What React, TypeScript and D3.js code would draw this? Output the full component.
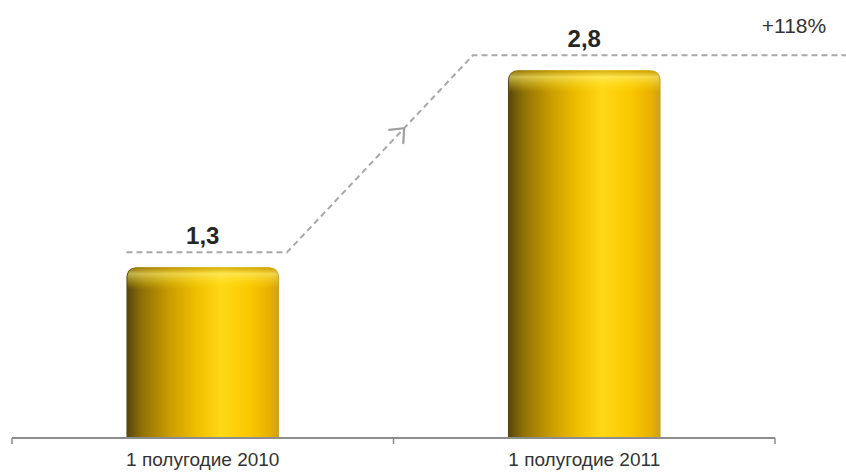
import * as d3 from "d3";
import React, {useEffect, useRef} from "react";

const categories = ["1 полугодие 2010", "1 полугодие 2011"];
const values = [1.3, 2.8];
const valueLabels = ["1,3", "2,8"];
const growthLabel = "+118%";

const width = 846;
const height = 472;

const App: React.FC = () => {
  const ref = useRef<SVGSVGElement | null>(null);

  useEffect(() => {
    const svg = d3.select(ref.current);
    svg.selectAll('*').remove();

    const margin = { left: 12, right: 71, bottom: 438 };

    const xScale = d3
      .scaleBand()
      .domain(categories)
      .range([margin.left, width - margin.right])
      .paddingInner(0.6)
      .paddingOuter(0.3);

    const yScale = d3
      .scaleLinear()
      .domain([0, 3])
      .range([margin.bottom, 44]);

    const bw = xScale.bandwidth();

    const defs = svg.append('defs');
    // horizontal shading of the cylinder
    const grad = defs.append('linearGradient')
      .attr('id', 'barGrad')
      .attr('x1', '0%').attr('x2', '100%').attr('y1', '0%').attr('y2', '0%');
    [
      [0, '#544510'],
      [0.1, '#8f7006'],
      [0.28, '#c99c00'],
      [0.46, '#efbf00'],
      [0.62, '#ffd816'],
      [0.8, '#fbc800'],
      [0.94, '#e8b000'],
      [1, '#c9a020'],
    ].forEach(([o, c]) => grad.append('stop').attr('offset', o as number).attr('stop-color', c as string));

    // highlight on the rounded top
    const capGrad = defs.append('linearGradient')
      .attr('id', 'capGrad')
      .attr('x1', '0%').attr('x2', '0%').attr('y1', '0%').attr('y2', '100%');
    capGrad.append('stop').attr('offset', 0).attr('stop-color', '#b08a00').attr('stop-opacity', 0.5);
    capGrad.append('stop').attr('offset', 0.3).attr('stop-color', '#fff27a').attr('stop-opacity', 0.6);
    capGrad.append('stop').attr('offset', 1).attr('stop-color', '#ffe000').attr('stop-opacity', 0);

    const r = 11;
    const barPath = (x: number, y: number, w: number, h: number) =>
      `M${x},${y + h} L${x},${y + r} Q${x},${y} ${x + r},${y} L${x + w - r},${y} Q${x + w},${y} ${x + w},${y + r} L${x + w},${y + h} Z`;

    const groups = svg.selectAll('.bar-group')
      .data(categories)
      .enter()
      .append('g')
      .attr('class', 'bar-group');

    groups.append('path')
      .attr('d', (d, i) => barPath(xScale(d)!, yScale(values[i]), bw, margin.bottom - yScale(values[i])))
      .attr('fill', 'url(#barGrad)');

    groups.append('path')
      .attr('d', (d, i) => barPath(xScale(d)! + 1, yScale(values[i]), bw - 2, 22))
      .attr('fill', 'url(#capGrad)');

    // value labels
    groups.append('text')
      .attr('x', (d) => xScale(d)! + bw / 2)
      .attr('y', (d, i) => yScale(values[i]) - 23)
      .attr('text-anchor', 'middle')
      .attr('fill', '#262626')
      .style('font-family', 'Liberation Sans, Arial, sans-serif')
      .style('font-size', '24px')
      .style('font-weight', 'bold')
      .text((d, i) => valueLabels[i]);

    // dashed growth connector
    const y0 = yScale(values[0]) - 15;
    const y1 = yScale(values[1]) - 15;
    const xa = xScale(categories[0])!;
    const xb = xa + bw + 8;
    const xc = xScale(categories[1])! - 35;
    svg.append('path')
      .attr('d', `M${xa},${y0} L${xb},${y0} L${xc},${y1} L${width},${y1}`)
      .attr('fill', 'none')
      .attr('stroke', '#a8a8a8')
      .attr('stroke-width', 2)
      .attr('stroke-dasharray', '6,4');

    // arrow head on the diagonal
    const t = 0.63;
    const tipX = xb + (xc - xb) * t;
    const tipY = y0 + (y1 - y0) * t;
    const back = Math.atan2(y0 - y1, xb - xc);
    const arm = 15;
    const spread = (40 * Math.PI) / 180;
    const a1 = [tipX + arm * Math.cos(back + spread), tipY + arm * Math.sin(back + spread)];
    const a2 = [tipX + arm * Math.cos(back - spread), tipY + arm * Math.sin(back - spread)];
    svg.append('path')
      .attr('d', `M${a1[0]},${a1[1]} L${tipX},${tipY} L${a2[0]},${a2[1]}`)
      .attr('fill', 'none')
      .attr('stroke', '#a0a0a0')
      .attr('stroke-width', 2.2)
      .attr('stroke-linecap', 'round');

    svg.append('text')
      .attr('x', 794)
      .attr('y', 33)
      .attr('text-anchor', 'middle')
      .attr('fill', '#333')
      .style('font-family', 'Liberation Sans, Arial, sans-serif')
      .style('font-size', '21px')
      .text(growthLabel);

    // x axis with ticks between categories
    const axisX = d3.scaleBand().domain(categories).range([margin.left, width - margin.right]);
    const axis = svg.append('g').attr('transform', `translate(0, ${margin.bottom})`);
    axis.append('line')
      .attr('x1', margin.left).attr('x2', width - margin.right)
      .attr('stroke', '#8c8c8c').attr('stroke-width', 2);
    const tickXs = [margin.left, ...categories.map((c) => axisX(c)! + axisX.bandwidth())];
    axis.selectAll('.tick')
      .data(tickXs)
      .enter()
      .append('line')
      .attr('x1', (d) => d).attr('x2', (d) => d)
      .attr('y1', 0).attr('y2', 6)
      .attr('stroke', '#8c8c8c').attr('stroke-width', 1.5);
    axis.selectAll('.cat')
      .data(categories)
      .enter()
      .append('text')
      .attr('x', (d) => axisX(d)! + axisX.bandwidth() / 2)
      .attr('y', 28)
      .attr('text-anchor', 'middle')
      .attr('fill', '#333')
      .style('font-family', 'Liberation Sans, Arial, sans-serif')
      .style('font-size', '19px')
      .text((d) => d);

    return () => {
      svg.selectAll('*').remove();
    };
  }, []);

  return (
    <svg
      ref={ref}
      width={width}
      height={height}
      style={{position: 'absolute', left: 0, top: 0, background: '#fff'}}
    />
  );
};

export default App;
